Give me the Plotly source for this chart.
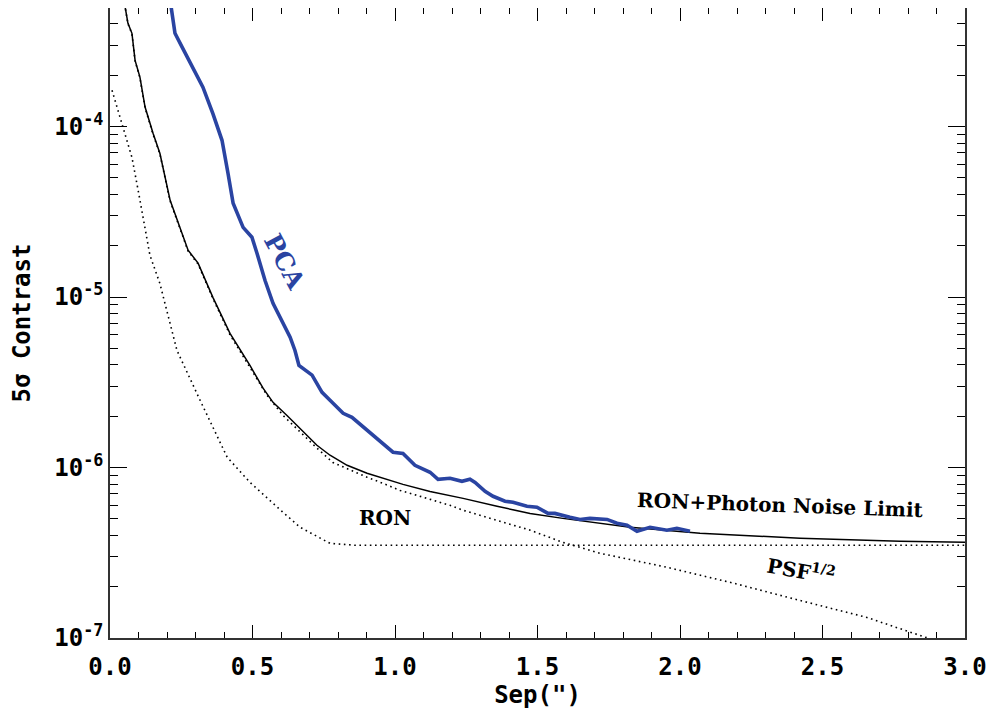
"""5-sigma contrast curves: PCA vs. RON / photon-noise limits."""

import plotly.graph_objects as go

# RON + photon noise limit (solid black)
limit_sep = [0.045, 0.063, 0.077, 0.088, 0.105, 0.123, 0.151, 0.175, 0.211, 0.274,
             0.309, 0.361, 0.421, 0.491, 0.537, 0.572, 0.621, 0.667, 0.726, 0.772,
             0.832, 0.902, 0.958, 1.028, 1.123, 1.239, 1.358, 1.474, 1.589, 1.709,
             1.825, 2.070, 2.421, 2.772, 3.0]
limit_con = [6.0e-4, 4.03e-4, 3.52e-4, 2.44e-4, 1.95e-4, 1.30e-4, 9.12e-5, 6.97e-5,
             3.69e-5, 1.88e-5, 1.58e-5, 9.95e-6, 6.12e-6, 3.97e-6, 2.92e-6, 2.41e-6,
             2.02e-6, 1.70e-6, 1.35e-6, 1.18e-6, 1.03e-6, 9.25e-7, 8.65e-7, 7.96e-7,
             7.24e-7, 6.59e-7, 5.92e-7, 5.38e-7, 5.03e-7, 4.71e-7, 4.46e-7, 4.11e-7,
             3.85e-7, 3.69e-7, 3.64e-7]

# read-out noise (dotted)
ron_sep = [0.007, 0.028, 0.046, 0.077, 0.102, 0.140, 0.175, 0.235, 0.316, 0.411,
           0.491, 0.551, 0.607, 0.667, 0.772, 0.860, 3.0]
ron_con = [1.63e-4, 1.24e-4, 1.00e-4, 6.59e-5, 3.95e-5, 1.76e-5, 1.20e-5, 4.86e-6,
           2.48e-6, 1.15e-6, 8.18e-7, 6.59e-7, 5.46e-7, 4.46e-7, 3.59e-7, 3.50e-7,
           3.50e-7]

# PSF^1/2 (dotted)
psf_sep = [0.045, 0.063, 0.077, 0.088, 0.105, 0.123, 0.151, 0.175, 0.211, 0.274,
           0.309, 0.361, 0.421, 0.491, 0.551, 0.607, 0.667, 0.726, 0.782, 0.842,
           0.902, 0.958, 1.018, 1.077, 1.193, 1.239, 1.358, 1.474, 1.589, 1.719,
           1.954, 2.186, 2.421, 2.656, 2.853, 2.895]
psf_con = [6.0e-4, 4.0e-4, 3.5e-4, 2.42e-4, 1.93e-4, 1.29e-4, 9.0e-5, 6.9e-5,
           3.65e-5, 1.86e-5, 1.56e-5, 9.8e-6, 6.0e-6, 3.9e-6, 2.65e-6, 2.02e-6,
           1.61e-6, 1.30e-6, 1.07e-6, 9.64e-7, 8.77e-7, 8.07e-7, 7.34e-7, 6.87e-7,
           6.00e-7, 5.61e-7, 4.90e-7, 4.29e-7, 3.64e-7, 3.14e-7, 2.60e-7, 2.10e-7,
           1.66e-7, 1.32e-7, 1.02e-7, 9.7e-8]

# PCA contrast curve (blue)
pca_sep = [0.211, 0.228, 0.253, 0.291, 0.326, 0.361, 0.393, 0.414, 0.432, 0.467,
           0.498, 0.516, 0.544, 0.572, 0.604, 0.632, 0.649, 0.663, 0.709, 0.744,
           0.772, 0.818, 0.849, 0.902, 0.954, 0.993, 1.028, 1.070, 1.123, 1.151,
           1.193, 1.235, 1.263, 1.281, 1.316, 1.344, 1.386, 1.414, 1.463, 1.498,
           1.537, 1.561, 1.614, 1.649, 1.684, 1.744, 1.779, 1.814, 1.849, 1.895,
           1.954, 1.989, 2.035]
pca_con = [5.5e-4, 3.52e-4, 2.92e-4, 2.22e-4, 1.70e-4, 1.19e-4, 8.30e-5, 5.32e-5,
           3.55e-5, 2.56e-5, 2.24e-5, 1.80e-5, 1.25e-5, 9.18e-6, 7.29e-6, 5.81e-6,
           4.86e-6, 3.97e-6, 3.48e-6, 2.76e-6, 2.48e-6, 2.08e-6, 1.97e-6, 1.65e-6,
           1.39e-6, 1.23e-6, 1.21e-6, 1.03e-6, 9.38e-7, 8.53e-7, 8.65e-7, 8.30e-7,
           8.53e-7, 8.18e-7, 7.24e-7, 6.78e-7, 6.34e-7, 6.25e-7, 5.92e-7, 5.85e-7,
           5.38e-7, 5.38e-7, 5.11e-7, 4.96e-7, 5.03e-7, 4.96e-7, 4.71e-7, 4.58e-7,
           4.23e-7, 4.46e-7, 4.29e-7, 4.40e-7, 4.23e-7]

x_ticks = [0.0, 0.5, 1.0, 1.5, 2.0, 2.5, 3.0]
x_ticktext = ["0.0", "0.5", "1.0", "1.5", "2.0", "2.5", "3.0"]
y_ticks = [1e-7, 1e-6, 1e-5, 1e-4]
y_ticktext = ["10<sup>-7</sup>", "10<sup>-6</sup>", "10<sup>-5</sup>", "10<sup>-4</sup>"]

TICK_FONT = dict(family="DejaVu Sans Mono", size=24, color="black", weight="bold")
LABEL_FONT = dict(family="DejaVu Sans Mono", size=24, color="black", weight="bold")
NOTE_FONT = dict(family="DejaVu Serif", size=20, color="black", weight="bold")
DOTS = "1.6px,3.6px"

fig = go.Figure()
fig.add_trace(go.Scatter(x=ron_sep, y=ron_con, mode="lines",
                         line=dict(color="black", width=1.6, dash=DOTS)))
fig.add_trace(go.Scatter(x=psf_sep, y=psf_con, mode="lines",
                         line=dict(color="black", width=1.6, dash=DOTS)))
fig.add_trace(go.Scatter(x=limit_sep, y=limit_con, mode="lines",
                         line=dict(color="black", width=1.5)))
fig.add_trace(go.Scatter(x=pca_sep, y=pca_con, mode="lines",
                         line=dict(color="#2a44a2", width=3.6)))

# text labels on the curves
fig.add_annotation(x=0.614, y=-4.796, text="PCA", showarrow=False, textangle=62,
                   font=dict(family="DejaVu Serif", size=25, color="#2a44a2",
                             weight="bold"))
fig.add_annotation(x=0.965, y=-6.298, text="RON", showarrow=False, font=NOTE_FONT)
fig.add_annotation(x=2.351, y=-6.222, text="RON+Photon Noise Limit",
                   showarrow=False, textangle=2, font=NOTE_FONT)
fig.add_annotation(x=2.425, y=-6.603, text="PSF<sup>1/2</sup>", showarrow=False,
                   textangle=10, font=NOTE_FONT)

minor_y = [m * 10.0 ** e for e in range(-8, -2) for m in range(2, 10)]

fig.update_xaxes(
    range=[0, 3], tickvals=x_ticks, ticktext=x_ticktext,
    ticks="inside", ticklen=13, tickwidth=1.2, tickcolor="black",
    minor=dict(dtick=0.1, ticks="inside", ticklen=6, tickwidth=1.2, tickcolor="black"),
    showline=True, linecolor="#333", linewidth=1.5, mirror="allticks",
    showgrid=False, zeroline=False, tickfont=TICK_FONT, ticklabelstandoff=6,
    automargin=False,
    title=dict(text='Sep(")', font=LABEL_FONT, standoff=4),
)
fig.update_yaxes(
    type="log", range=[-7, -3.305], tickvals=y_ticks, ticktext=y_ticktext,
    ticks="inside", ticklen=17, tickwidth=1.2, tickcolor="black",
    minor=dict(tickvals=minor_y, ticks="inside", ticklen=8, tickwidth=1.2,
               tickcolor="black"),
    showline=True, linecolor="#333", linewidth=1.5, mirror="allticks",
    showgrid=False, zeroline=False, tickfont=TICK_FONT, automargin=False,
    title=dict(text="5σ Contrast", font=LABEL_FONT, standoff=17),
)

# the page adds an 8px body margin, so the figure is sized to the visible area
fig.update_layout(
    width=987, height=705, autosize=False,
    margin=dict(l=102, r=30, t=0, b=75),
    plot_bgcolor="white", paper_bgcolor="white",
    showlegend=False,
)

fig.write_html("out.html")
